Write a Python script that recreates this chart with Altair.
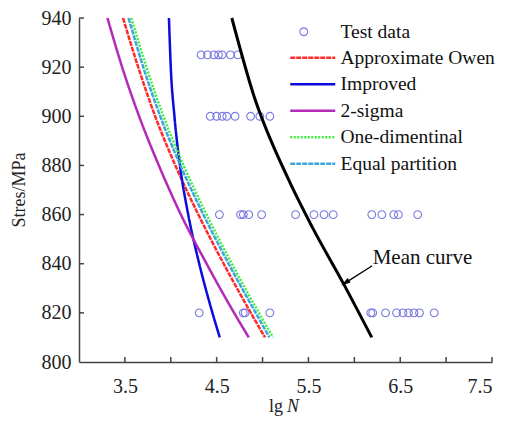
import altair as alt
import pandas as pd

# ---------------- data ----------------
# Test data (lg N) at each stress level (MPa)
levels = [925, 900, 860, 820]
lg_925 = [4.33, 4.40, 4.47, 4.52, 4.56, 4.65, 4.73]
lg_900 = [4.43, 4.50, 4.56, 4.61, 4.70, 4.87, 4.97, 5.08]
lg_860 = [4.53, 4.76, 4.79, 4.85, 4.99, 5.36, 5.56, 5.67, 5.77, 6.19, 6.30, 6.43, 6.48, 6.69]
lg_820 = [4.31, 4.79, 4.81, 5.08, 6.18, 6.20, 6.34, 6.46, 6.53, 6.59, 6.65, 6.71, 6.87]

# P-S-N curves (lg N at the stress levels below)
curve_s = [940, 920, 900, 880, 860, 840, 820, 810]
owen_lg = [3.48, 3.645, 3.83, 4.05, 4.30, 4.576, 4.872, 5.027]
improved_lg = [3.98, 4.00, 4.04, 4.10, 4.19, 4.31, 4.454, 4.534]
sigma_lg = [3.31, 3.47, 3.655, 3.87, 4.11, 4.39, 4.69, 4.85]
onedim_lg = [3.57, 3.735, 3.92, 4.14, 4.39, 4.665, 4.96, 5.115]
equal_lg = [3.54, 3.70, 3.885, 4.105, 4.355, 4.63, 4.925, 5.075]
mean_lg = [4.665, 4.90, 5.28, 5.54, 5.88, 6.19]
mean_s = [940, 909, 874.5, 855, 832, 810]

series_names = ["Approximate Owen", "Improved", "2-sigma", "One-dimentinal", "Equal partition"]
series_colors = ["#ff2b2b", "#0c0cdc", "#b42ab8", "#3cef3c", "#3fa6dc"]
series_dash = [[5, 1], [1, 0], [1, 0], [2, 1.5], [5, 1]]

x_ticks = [3.5, 4.0, 4.5, 5.0, 5.5, 6.0, 6.5, 7.0, 7.5]
y_ticks = [820, 840, 860, 880, 900, 920, 940]

# Annotation
ann_x = [6.20]
ann_y = [840]
ann_text = ["Mean curve"]
arrow_x, arrow_y, arrow_x2, arrow_y2 = [6.195], [839.2], [5.906], [832.3]
head_x, head_y = [5.90], [832.2]

# ---------------- build tables ----------------
rows = []
for s, arr in zip(levels, [lg_925, lg_900, lg_860, lg_820]):
    for v in arr:
        rows.append({"lgN": v, "S": s, "kind": "Test data"})
pts = pd.DataFrame(rows)

crow = []
for name, lgs in zip(series_names, [owen_lg, improved_lg, sigma_lg, onedim_lg, equal_lg]):
    for a, b in zip(lgs, curve_s):
        crow.append({"lgN": a, "S": b, "series": name})
cdf = pd.DataFrame(crow)
mdf = pd.DataFrame({"lgN": mean_lg, "S": mean_s})

W, H = 413, 344
FONT = "Liberation Serif"
AX = "#444444"
LFS = 19.5

xs = alt.Scale(domain=[3, 7.5], nice=False, zero=False)
ys = alt.Scale(domain=[800, 940], nice=False, zero=False)

xaxis = alt.Axis(values=x_ticks, title=None, grid=False, ticks=False, tickSize=0,
                 labelExpr="(datum.value*2) % 2 == 1 ? format(datum.value, '.1f') : ''",
                 domainColor=AX, domainWidth=1.5, labelFont=FONT, labelFontSize=20,
                 labelColor="#222222", labelPadding=14)
yaxis = alt.Axis(values=[800] + y_ticks, title=None, grid=False, ticks=False, tickSize=0,
                 domainColor=AX, domainWidth=1.5, labelFont=FONT, labelFontSize=20,
                 labelColor="#222222", labelPadding=8)

X = lambda f="lgN": alt.X(f"{f}:Q", scale=xs, axis=xaxis)
Y = lambda f="S": alt.Y(f"{f}:Q", scale=ys, axis=yaxis)

PCOL = "#6c6ce0"
points = alt.Chart(pts).mark_point(filled=False, size=60, strokeWidth=1.1, color=PCOL, opacity=0.9).encode(
    x=X(), y=Y(),
    shape=alt.Shape("kind:N", scale=alt.Scale(domain=["Test data"], range=["circle"]),
                    legend=alt.Legend(orient="none", legendX=215, legendY=4, title=None,
                                      labelFont=FONT, labelFontSize=LFS, labelColor="#111111",
                                      labelOffset=27, symbolStrokeColor=PCOL, labelLimit=300,
                                      symbolFillColor="transparent", symbolSize=60,
                                      symbolStrokeWidth=1.1, padding=0)),
)

leg = alt.Legend(orient="none", legendX=224, legendY=30, title=None, symbolType="M-3,0L3,0",
                 symbolSize=225, symbolStrokeWidth=2.5, labelFont=FONT, labelFontSize=LFS,
                 labelColor="#111111", labelOffset=18, rowPadding=5.5, padding=0, labelLimit=300)

curves = alt.Chart(cdf).mark_line(strokeWidth=2.5, interpolate="monotone").encode(
    x=X(), y=Y(),
    color=alt.Color("series:N", scale=alt.Scale(domain=series_names, range=series_colors), legend=leg),
    strokeDash=alt.StrokeDash("series:N", scale=alt.Scale(domain=series_names, range=series_dash), legend=leg),
)

mean = alt.Chart(mdf).mark_line(strokeWidth=3, color="black", interpolate="monotone").encode(x=X(), y=Y())

xt = alt.Chart(pd.DataFrame({"lgN": x_ticks})).mark_rule(color=AX, strokeWidth=1.5).encode(
    x=X(), y=alt.value(H), y2=alt.value(H - 5))
yt = alt.Chart(pd.DataFrame({"S": y_ticks})).mark_rule(color=AX, strokeWidth=1.5).encode(
    y=Y(), x=alt.value(0), x2=alt.value(5))

ann = alt.Chart(pd.DataFrame({"lgN": ann_x, "S": ann_y, "t": ann_text})).mark_text(
    align="left", baseline="alphabetic", font=FONT, fontSize=21, color="#111111").encode(
    x=X(), y=Y(), text="t:N")

arrow = alt.Chart(pd.DataFrame({"lgN": arrow_x, "S": arrow_y, "lgN2": arrow_x2, "S2": arrow_y2})).mark_rule(
    color="black", strokeWidth=1.3).encode(x=X(), y=Y(), x2="lgN2:Q", y2="S2:Q")
head = alt.Chart(pd.DataFrame({"lgN": head_x, "S": head_y})).mark_point(
    shape="M0,-1L0.55,1L-0.55,1Z", filled=True, size=90, color="black", angle=237, opacity=1).encode(
    x=X(), y=Y())

xlab1 = alt.Chart(pd.DataFrame({"t": ["lg"]})).mark_text(
    align="right", baseline="alphabetic", font=FONT, fontSize=18, color="#222222").encode(
    x=alt.value(204), y=alt.value(394), text="t:N")
xlab2 = alt.Chart(pd.DataFrame({"t": ["N"]})).mark_text(
    align="left", baseline="alphabetic", font=FONT, fontSize=18, fontStyle="italic", color="#222222").encode(
    x=alt.value(208), y=alt.value(394), text="t:N")
ylab = alt.Chart(pd.DataFrame({"t": ["Stres/MPa"]})).mark_text(
    align="center", baseline="middle", font=FONT, fontSize=18, angle=270, color="#222222").encode(
    x=alt.value(-59), y=alt.value(172), text="t:N")

chart = alt.layer(points, curves, mean, xt, yt, arrow, head, ann, xlab1, xlab2, ylab).properties(
    width=W, height=H,
    autosize=alt.AutoSizeParams(type="none"),
    padding={"left": 71, "top": 10, "right": 8, "bottom": 58},
).configure_view(strokeWidth=0)

chart.save("out.html", embed_options={"renderer": "svg", "actions": False})
